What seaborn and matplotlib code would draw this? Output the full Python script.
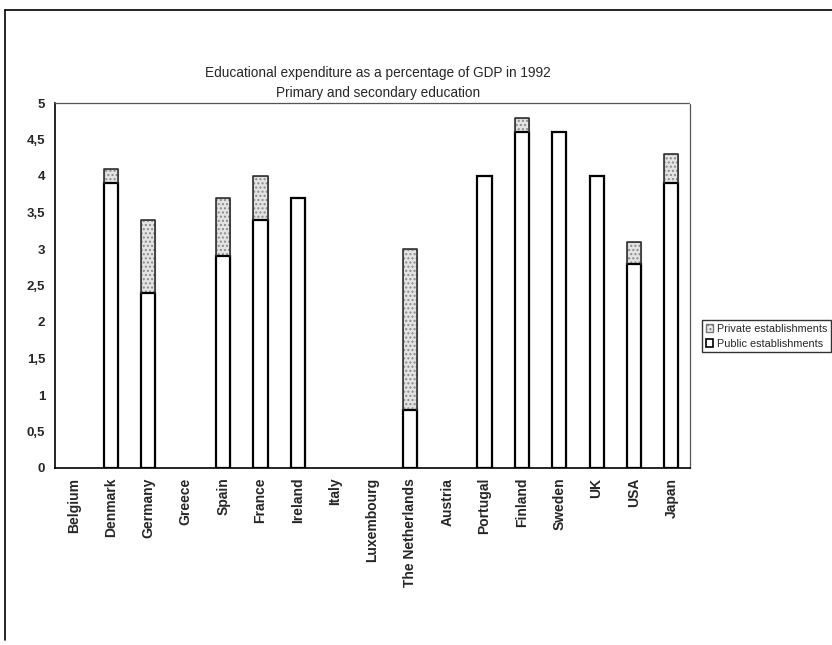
import numpy as np
import pandas as pd
import matplotlib
matplotlib.use("Agg")
import matplotlib.pyplot as plt
import seaborn as sns
from matplotlib.patches import Patch
from matplotlib.lines import Line2D

countries = ["Belgium", "Denmark", "Germany", "Greece", "Spain", "France", "Ireland",
             "Italy", "Luxembourg", "The Netherlands", "Austria", "Portugal", "Finland",
             "Sweden", "UK", "USA", "Japan"]
public = [np.nan, 3.9, 2.4, np.nan, 2.9, 3.4, 3.7, np.nan, np.nan, 0.8, np.nan,
          4.0, 4.6, 4.6, 4.0, 2.8, 3.9]
private = [np.nan, 0.2, 1.0, np.nan, 0.8, 0.6, 0.0, np.nan, np.nan, 2.2, np.nan,
           0.0, 0.2, 0.0, 0.0, 0.3, 0.4]
yticks = [0, 0.5, 1, 1.5, 2, 2.5, 3, 3.5, 4, 4.5, 5]
ytick_labels = ["0", "0,5", "1", "1,5", "2", "2,5", "3", "3,5", "4", "4,5", "5"]

df = pd.DataFrame({"country": countries, "public": public, "private": private})
df["total"] = df["public"] + df["private"]

sns.set_theme(style="white")
plt.rcParams["font.family"] = ["Liberation Sans", "DejaVu Sans"]
plt.rcParams["hatch.linewidth"] = 1.0

fig = plt.figure(figsize=(8.32, 6.45), dpi=100)
ax = fig.add_axes([55 / 832, 1 - 468 / 645, (690 - 55) / 832, (468 - 103) / 645])

bw = 0.38
# full totals first (private share on top), public part overlaid below
sns.barplot(data=df, x="country", y="total", order=countries, ax=ax, width=bw,
            color="#e4e4e4", edgecolor="#8a8a8a", hatch="....", linewidth=0.8,
            saturation=1, errorbar=None)
sns.barplot(data=df, x="country", y="public", order=countries, ax=ax, width=bw,
            color="white", edgecolor="black", linewidth=1.6, saturation=1,
            errorbar=None)
# outline the private segments
for x, (pub, tot) in enumerate(zip(df["public"], df["total"])):
    if np.isfinite(tot) and tot > pub:
        ax.plot([x - bw / 2, x - bw / 2, x + bw / 2, x + bw / 2],
                [pub, tot, tot, pub], color="#333333", lw=1.2, zorder=3)

ax.set_xlim(-0.5, len(countries) - 0.5)
ax.set_ylim(0, 5)
ax.set_yticks(yticks)
ax.set_yticklabels(ytick_labels, fontsize=9.5, fontweight="bold")
ax.set_xticks(range(len(countries)))
ax.set_xticklabels(countries, rotation=90, fontsize=10, fontweight="bold", va="top")
ax.set_xticks(np.arange(-0.5, len(countries)), minor=True)
ax.tick_params(axis="x", which="major", length=0, pad=7)
ax.tick_params(axis="x", which="minor", length=8, width=1, direction="inout", color="black")
ax.tick_params(axis="y", which="major", length=8, width=1, direction="inout", color="black", pad=3)
ax.set_xlabel("")
ax.set_ylabel("")

for side in ["left", "bottom"]:
    ax.spines[side].set_color("black")
    ax.spines[side].set_linewidth(1.2)
for side in ["top", "right"]:
    ax.spines[side].set_color("#555555")
    ax.spines[side].set_linestyle((0, (1, 1)))
    ax.spines[side].set_linewidth(0.9)

fig.text(378 / 832, 1 - 73 / 645, "Educational expenditure as a percentage of GDP in 1992",
         ha="center", va="center", fontsize=9.8)
fig.text(378 / 832, 1 - 93 / 645, "Primary and secondary education",
         ha="center", va="center", fontsize=9.8)

handles = [Patch(facecolor="#eeeeee", edgecolor="#777777", hatch="....", label="Private establishments"),
           Patch(facecolor="white", edgecolor="black", linewidth=1.2, label="Public establishments")]
leg = fig.legend(handles=handles, loc="upper left", bbox_to_anchor=(702 / 832, 1 - 320 / 645),
                 fontsize=7.8, frameon=True, fancybox=False, edgecolor="black",
                 handlelength=0.7, handleheight=0.7, handletextpad=0.3,
                 borderpad=0.35, labelspacing=0.45, borderaxespad=0)
leg.get_frame().set_linewidth(1.0)

# outer frame around the chart
fig.add_artist(Line2D([5 / 832, 5 / 832], [1 - 640 / 645, 1 - 10 / 645],
                      transform=fig.transFigure, color="black", lw=1.2))
fig.add_artist(Line2D([5 / 832, 1.0], [1 - 10 / 645, 1 - 10 / 645],
                      transform=fig.transFigure, color="black", lw=1.2))

fig.savefig("out.png", dpi=100)
